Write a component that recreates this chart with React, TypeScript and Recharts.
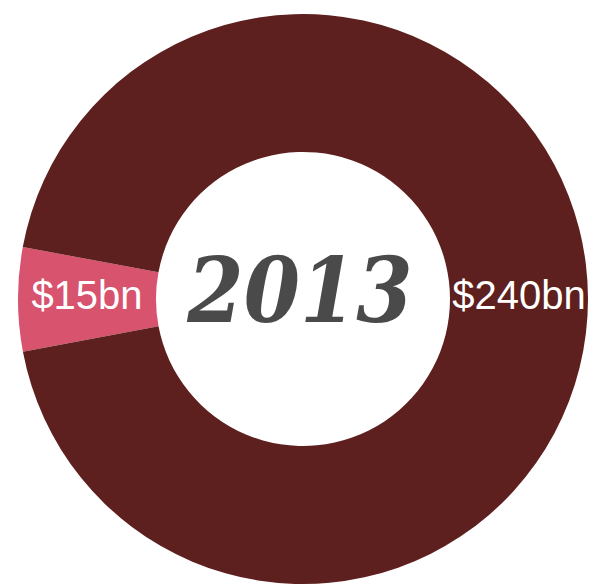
import React from 'react';
import { PieChart, Pie, Cell, Label } from 'recharts';

const categories = ['Other', 'Main'];
const values = [15, 240];
const labels = ['$15bn', '$240bn'];
const colors = ['#d8536d', '#5e201e'];
const centerTitle = '2013';

const data = categories.map((c, i) => ({ name: c, value: values[i], label: labels[i] }));

const RADIAN = Math.PI / 180;

const renderLabel = (props: any) => {
  const { cx, cy, midAngle, innerRadius, outerRadius, index } = props;
  const r = (innerRadius + outerRadius) / 2;
  const x = cx + r * Math.cos(-midAngle * RADIAN);
  const y = cy + r * Math.sin(-midAngle * RADIAN);
  return (
    <text
      x={x}
      y={y + 10}
      fill="#ffffff"
      textAnchor="middle"
      fontFamily="'Liberation Sans', Arial, sans-serif"
      fontSize={40}
    >
      {labels[index]}
    </text>
  );
};

const renderCenter = (props: any) => {
  const vb = props.viewBox || {};
  const cx = vb.cx ?? 298;
  const cy = vb.cy ?? 294;
  return (
    <text
      x={cx + 2}
      y={cy + 28}
      fill="#4a4a4a"
      textAnchor="middle"
      fontFamily="'DejaVu Serif Condensed', 'DejaVu Serif', serif"
      fontWeight="bold"
      fontStyle="italic"
      fontStretch="condensed"
      fontSize={90}
    >
      {centerTitle}
    </text>
  );
};

export default function App() {
  return (
    <div style={{ position: 'absolute', left: 0, top: 0, width: 590, height: 584, background: '#ffffff' }}>
      <PieChart width={590} height={584}>
        <Pie
          data={data}
          dataKey="value"
          nameKey="name"
          cx={298}
          cy={294}
          innerRadius={147}
          outerRadius={285}
          startAngle={169.5}
          endAngle={529.5}
          stroke="none"
          labelLine={false}
          label={renderLabel}
          isAnimationActive={false}
        >
          {data.map((d, i) => (
            <Cell key={d.name} fill={colors[i]} stroke="none" />
          ))}
          <Label position="center" content={renderCenter} />
        </Pie>
      </PieChart>
    </div>
  );
}
